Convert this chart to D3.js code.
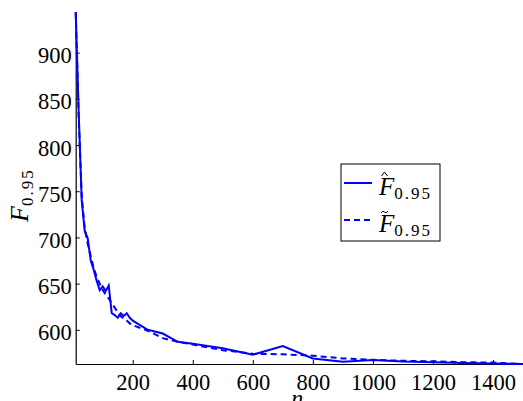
<!DOCTYPE html>
<html>
<head>
<meta charset="utf-8">
<script src="https://cdn.jsdelivr.net/npm/d3@7"></script>
<style>
  body { margin: 0; background: #fff; }
  svg { display: block; }
</style>
</head>
<body>
<div id="chart"></div>
<script>
// sample sizes and the two estimates of F_0.95
const nValues = [10, 20, 30, 40, 50, 60, 70, 80, 90, 100, 110, 120, 130, 140, 150, 160, 170, 180, 190, 200,
  250, 300, 350, 400, 500, 600, 700, 800, 900, 1000, 1100, 1200, 1300, 1400, 1500];
const fHat = [944, 835, 740, 707, 699, 675, 665, 653, 643, 647, 642, 648, 618, 616, 613, 618, 615, 618, 613, 610,
  600, 596, 587, 585, 580, 573, 582.5, 569, 565.5, 567.4, 565.8, 565, 564, 563.6, 563];
const fTilde = [944, 830, 745, 710, 693, 680, 667, 657, 650, 643, 638, 634, 629, 624, 619, 615, 612, 610, 607, 605,
  599, 591, 587, 584, 578, 574, 573.5, 572, 569, 567.5, 566.5, 566, 565, 564.5, 563];
const xTicks = [200, 400, 600, 800, 1000, 1200, 1400];
const yTicks = [600, 650, 700, 750, 800, 850, 900];

const FONT = "'Liberation Serif', 'Times New Roman', serif";
const W = 523, H = 401;
const margin = {top: 12, right: 0, bottom: 37, left: 75.7};

const svg = d3.select("#chart").append("svg")
  .attr("width", W)
  .attr("height", H)
  .style("font-family", FONT);

const x = d3.scaleLinear().domain([10, 1500]).range([margin.left, W - margin.right]);
const y = d3.scaleLinear().domain([563, 944]).range([H - margin.bottom, margin.top]);

// axes, ticks point inward
const xAxis = svg.append("g")
  .attr("transform", "translate(0," + (H - margin.bottom) + ")")
  .call(d3.axisBottom(x).tickValues(xTicks).tickFormat(d3.format("d"))
    .tickSizeInner(-4).tickSizeOuter(0).tickPadding(10));

const yAxis = svg.append("g")
  .attr("transform", "translate(" + margin.left + ",0)")
  .call(d3.axisLeft(y).tickValues(yTicks).tickFormat(d3.format("d"))
    .tickSizeInner(-4).tickSizeOuter(0).tickPadding(4));

[xAxis, yAxis].forEach(g => {
  g.attr("font-family", null).attr("font-size", 22.5);
  g.selectAll("text").attr("fill", "#000").style("font-family", FONT);
  g.select(".domain").attr("stroke", "#000").attr("stroke-width", 1.2);
  g.selectAll(".tick line").attr("stroke", "#000");
});
yAxis.selectAll("text").attr("dy", "0.45em");

// lines
const line = d3.line()
  .x((d, i) => x(nValues[i]))
  .y(d => y(d));

svg.append("path")
  .datum(fTilde)
  .attr("fill", "none")
  .attr("stroke", "#0000ff")
  .attr("stroke-width", 2)
  .attr("stroke-dasharray", "6,4")
  .attr("d", line);

svg.append("path")
  .datum(fHat)
  .attr("fill", "none")
  .attr("stroke", "#0000ff")
  .attr("stroke-width", 2)
  .attr("d", line);

// axis labels
const yl = svg.append("text")
  .attr("transform", "translate(28,222) rotate(-90)")
  .attr("font-size", 26);
yl.append("tspan").attr("font-style", "italic").text("F");
yl.append("tspan").attr("font-size", 17).attr("letter-spacing", 2).attr("dy", 5).text("0.95");

svg.append("text")
  .attr("x", (margin.left + W) / 2 - 2)
  .attr("y", 406)
  .attr("text-anchor", "middle")
  .attr("font-size", 24)
  .attr("font-style", "italic")
  .text("n");

// legend
const lg = svg.append("g").attr("transform", "translate(341,164)");
lg.append("rect")
  .attr("width", 99).attr("height", 77)
  .attr("fill", "#fff").attr("stroke", "#000").attr("stroke-width", 1);

const entries = [
  {dash: null, mark: "hat", y: 19},
  {dash: "6,4", mark: "tilde", y: 56}
];
entries.forEach(e => {
  lg.append("line")
    .attr("x1", 3).attr("x2", 31)
    .attr("y1", e.y).attr("y2", e.y)
    .attr("stroke", "#0000ff").attr("stroke-width", 2)
    .attr("stroke-dasharray", e.dash);
  const t = lg.append("text")
    .attr("x", 38).attr("y", e.y + 12)
    .attr("font-size", 25);
  t.append("tspan").attr("font-style", "italic").text("F");
  t.append("tspan").attr("font-size", 17).attr("letter-spacing", 2).attr("dy", 4).text("0.95");
  if (e.mark === "hat") {
    lg.append("path")
      .attr("d", "M40.5," + (e.y - 7) + " L43.5," + (e.y - 11) + " L46.5," + (e.y - 7))
      .attr("fill", "none").attr("stroke", "#000").attr("stroke-width", 1);
  } else {
    lg.append("path")
      .attr("d", "M40," + (e.y - 7) + " q1.5,-3 3.5,-1 q2,2 3.5,-1")
      .attr("fill", "none").attr("stroke", "#000").attr("stroke-width", 1);
  }
});
</script>
</body>
</html>
